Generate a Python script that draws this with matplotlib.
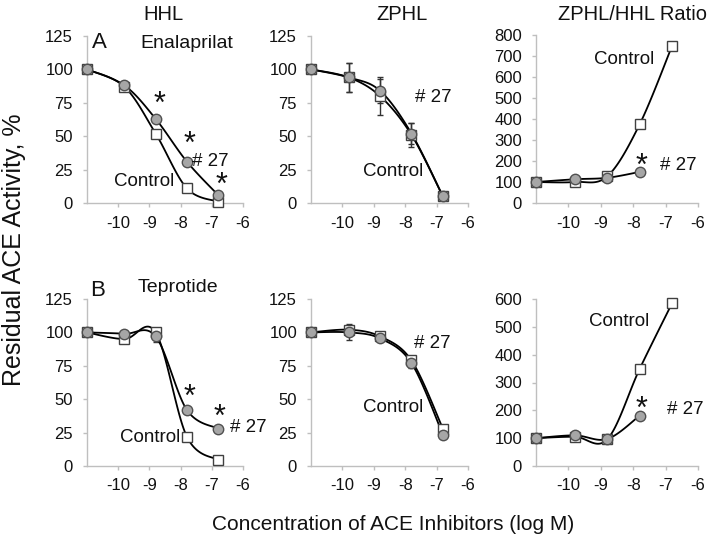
import numpy as np
import matplotlib
matplotlib.use("Agg")
import matplotlib.pyplot as plt

plt.rcParams["font.family"] = ["Liberation Sans", "DejaVu Sans"]

# log M concentrations (first point = no inhibitor, drawn on the y axis)
conc = [-11, -9.8, -8.8, -7.8, -6.8]

# panel A, HHL substrate, enalaprilat
hhl_ena_ctrl = [100, 87, 52, 11, 1]
hhl_ena_27 = [100, 88, 63, 31, 6]
# ZPHL substrate, enalaprilat
zphl_ena_ctrl = [100, 94, 80, 51, 5]
zphl_ena_ctrl_err = [1, 11, 14, 9, 1]
zphl_ena_27 = [100, 94, 84, 52, 5]
zphl_ena_27_err = [1, 11, 9, 8, 1]
# ratio, enalaprilat
ratio_ena_ctrl = [100, 100, 127, 375, 748]
ratio_ena_27 = [100, 113, 120, 148]

# panel B, teprotide
hhl_tep_ctrl = [100, 95, 100, 22, 4.5]
hhl_tep_27 = [100, 99, 97, 42, 28]
hhl_tep_27_err = [1, 1, 4, 2, 1]
zphl_tep_ctrl = [100, 102, 97, 79, 28]
zphl_tep_27 = [100, 100, 95.5, 77, 23.5]
zphl_tep_27_err = [1, 6, 1, 4, 1]
ratio_tep_ctrl = [100, 105, 96, 349, 585]
ratio_tep_27 = [100, 110, 97, 181]

W, H = 715, 540
fig = plt.figure(figsize=(W / 100, H / 100), dpi=100)

AXIS_GRAY = "#BFBFBF"


def smooth(xs, ys, n=30):
    # Excel style smoothed line (Catmull-Rom as cubic Bezier)
    p = np.column_stack([xs, ys]).astype(float)
    out = []
    for i in range(len(p) - 1):
        p0 = p[i - 1] if i > 0 else p[i]
        p1, p2 = p[i], p[i + 1]
        p3 = p[i + 2] if i + 2 < len(p) else p[i + 1]
        b1 = p1 + (p2 - p0) / 6
        b2 = p2 - (p3 - p1) / 6
        t = np.linspace(0, 1, n)[:, None]
        seg = ((1 - t) ** 3) * p1 + 3 * ((1 - t) ** 2) * t * b1 + 3 * (1 - t) * t ** 2 * b2 + t ** 3 * p2
        out.append(seg if i == 0 else seg[1:])
    out = np.vstack(out)
    return out[:, 0], out[:, 1]


def make_ax(left, top, right, bottom):
    ax = fig.add_axes([left / W, 1 - bottom / H, (right - left) / W, (bottom - top) / H])
    for s in ("top", "right"):
        ax.spines[s].set_visible(False)
    for s in ("left", "bottom"):
        ax.spines[s].set_color(AXIS_GRAY)
        ax.spines[s].set_linewidth(1.0)
    ax.set_xlim(-11, -6)
    ax.set_xticks([-10, -9, -8, -7, -6])
    ax.set_xticklabels(["-10", "-9", "-8", "-7", "-6"])
    ax.tick_params(axis="both", colors=AXIS_GRAY, labelcolor="#111111",
                   labelsize=12, length=3, width=1.0, direction="out")
    ax.tick_params(axis="x", pad=6)
    ax.tick_params(axis="y", pad=7)
    ax.patch.set_alpha(0)
    return ax


def series(ax, ys, kind, err=None):
    xs = conc[:len(ys)]
    sx, sy = smooth(xs, ys)
    ax.plot(sx, sy, color="black", lw=1.3, zorder=3, clip_on=False)
    if err is not None:
        ax.errorbar(xs, ys, yerr=err, fmt="none", ecolor="#333333",
                    elinewidth=1.0, capsize=2.5, capthick=1.0, zorder=2, clip_on=False)
    if kind == "ctrl":
        ax.plot(xs, ys, ls="none", marker="s", ms=7.5, mfc="white",
                mec="#404040", mew=1.0, zorder=4, clip_on=False)
    else:
        ax.plot(xs, ys, ls="none", marker="o", ms=7.5, mfc="#A6A6A6",
                mec="#505050", mew=1.0, zorder=5, clip_on=False)


def ftext(x, y, s, size=13.5, **kw):
    fig.text(x / W, 1 - y / H, s, fontsize=size, ha="center", va="center",
             color="#111111", **kw)


# top row
axA = make_ax(87, 36, 243, 203)
axA.set_ylim(0, 125)
axA.set_yticks([0, 25, 50, 75, 100, 125])
series(axA, hhl_ena_ctrl, "ctrl")
series(axA, hhl_ena_27, "27")

axB = make_ax(311, 36, 468, 203)
axB.set_ylim(0, 125)
axB.set_yticks([0, 25, 50, 75, 100, 125])
series(axB, zphl_ena_ctrl, "ctrl", zphl_ena_ctrl_err)
series(axB, zphl_ena_27, "27", zphl_ena_27_err)

axC = make_ax(536, 35, 698, 203)
axC.set_ylim(0, 800)
axC.set_yticks(range(0, 801, 100))
series(axC, ratio_ena_ctrl, "ctrl")
series(axC, ratio_ena_27, "27")

# bottom row
axD = make_ax(87, 299, 243, 466)
axD.set_ylim(0, 125)
axD.set_yticks([0, 25, 50, 75, 100, 125])
series(axD, hhl_tep_ctrl, "ctrl")
series(axD, hhl_tep_27, "27", hhl_tep_27_err)

axE = make_ax(311, 299, 468, 466)
axE.set_ylim(0, 125)
axE.set_yticks([0, 25, 50, 75, 100, 125])
series(axE, zphl_tep_ctrl, "ctrl")
series(axE, zphl_tep_27, "27", zphl_tep_27_err)

axF = make_ax(536, 299, 698, 466)
axF.set_ylim(0, 600)
axF.set_yticks(range(0, 601, 100))
series(axF, ratio_tep_ctrl, "ctrl")
series(axF, ratio_tep_27, "27")

# column titles and panel labels
ftext(163, 15, "HHL", 14.5)
ftext(402, 15, "ZPHL", 14.5)
ftext(633, 15, "ZPHL/HHL Ratio", 14.5)
ftext(99, 43, "A", 16)
ftext(187, 43, "Enalaprilat", 14)
ftext(98, 291, "B", 16)
ftext(178, 288, "Teprotide", 14)

# annotations
ftext(144, 181, "Control")
ftext(210, 161, "# 27")
ftext(393, 172, "Control")
ftext(433, 97, "# 27")
ftext(624, 60, "Control")
ftext(678, 165, "# 27")

ftext(150, 437, "Control")
ftext(248, 428, "# 27")
ftext(393, 407, "Control")
ftext(432, 343, "# 27")
ftext(619, 321, "Control")
ftext(685, 409, "# 27")

# significance stars
for sx, sy in [(159, 105), (190, 145), (221, 186), (642, 167),
               (190, 398), (220, 418), (642, 410)]:
    ftext(sx, sy, "*", 22)

fig.text(14 / W, 1 - 250 / H, "Residual ACE Activity, %", rotation=90,
         fontsize=18, ha="center", va="center", color="#111111")
fig.text(393 / W, 1 - 524 / H, "Concentration of ACE Inhibitors (log M)",
         fontsize=15, ha="center", va="center", color="#111111")

fig.savefig("out.png", dpi=100)
